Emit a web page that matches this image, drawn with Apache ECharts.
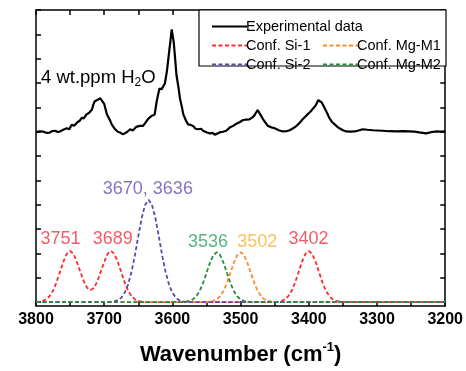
<!DOCTYPE html>
<html>
<head>
<meta charset="utf-8">
<script src="https://cdn.jsdelivr.net/npm/echarts@6/dist/echarts.min.js"></script>
<style>html,body{margin:0;padding:0;background:#fff}#c{width:466px;height:371px}</style>
</head>
<body>
<div id="c"></div>
<script>
// ---- data ----
const expWavenumber = [3800,3795,3789,3784,3780,3776,3772,3768,3765,3760,3755,3751,3748,3744,3740,3736,3733,3730,3726,3722,3718,3716,3714,3710,3706,3704,3700,3696,3692,3689,3684,3680,3677,3673,3670,3666,3662,3658,3653,3648,3643,3640,3636,3631,3626,3623,3619,3616,3614,3611,3608,3606,3603,3601,3598,3596,3594,3591,3589,3586,3584,3580,3577,3573,3570,3566,3562,3558,3555,3550,3545,3541,3538,3534,3531,3526,3521,3516,3511,3506,3501,3497,3492,3487,3483,3480,3477,3475,3471,3467,3463,3460,3455,3450,3444,3438,3433,3428,3423,3418,3413,3409,3403,3397,3390,3386,3384,3381,3377,3373,3370,3366,3362,3358,3355,3350,3345,3339,3333,3327,3321,3314,3306,3299,3292,3282,3272,3262,3253,3245,3238,3233,3228,3221,3214,3207,3200];
const expIntensity = [6.97,7.02,7.00,6.95,6.96,7.03,7.04,6.99,7.01,7.08,7.14,7.10,7.28,7.25,7.37,7.45,7.57,7.55,7.71,7.78,7.91,8.10,8.25,8.30,8.38,8.45,8.14,7.71,7.50,7.30,7.10,7.00,6.97,6.90,6.93,7.00,7.10,7.05,7.20,7.24,7.24,7.35,7.51,7.64,7.71,8.25,8.78,8.74,8.71,8.98,9.50,9.99,10.7,11.2,10.66,10.0,9.32,8.80,8.38,8.00,7.71,7.45,7.30,7.28,7.24,7.12,7.10,7.12,7.04,6.98,6.93,6.95,6.88,6.92,6.97,7.00,7.04,7.17,7.24,7.33,7.40,7.47,7.50,7.51,7.58,7.66,7.80,7.89,7.70,7.51,7.35,7.24,7.18,7.14,7.06,7.01,7.02,7.06,7.14,7.24,7.38,7.51,7.68,7.84,8.08,8.30,8.35,8.20,7.98,7.76,7.57,7.40,7.30,7.20,7.14,7.06,7.01,7.00,7.01,7.05,7.10,7.08,7.06,7.05,7.04,7.02,7.01,7.02,7.01,7.00,6.97,6.95,6.93,6.98,7.01,7.00,7.01];

const si1Wavenumber = [3800,3795,3790,3785,3780,3775,3770,3765,3760,3755,3750,3745,3740,3735,3730,3725,3720,3715,3710,3705,3700,3695,3690,3685,3680,3675,3670,3665,3660,3655,3650,3645,3640,3450,3445,3440,3435,3430,3425,3420,3415,3410,3405,3400,3395,3390,3385,3380,3375,3370,3365,3360,3355,3350,3200];
const si1Intensity = [0,0.02,0.05,0.11,0.25,0.47,0.81,1.23,1.65,1.98,2.10,1.98,1.65,1.25,0.86,0.58,0.50,0.58,0.86,1.25,1.65,1.98,2.10,1.98,1.65,1.23,0.81,0.47,0.25,0.11,0.05,0.02,0,0,0.02,0.05,0.11,0.25,0.47,0.81,1.23,1.65,1.98,2.10,1.98,1.65,1.23,0.81,0.47,0.25,0.11,0.05,0.02,0,0];

const si2Wavenumber = [3800,3700,3690,3685,3680,3675,3670,3665,3660,3655,3650,3645,3640,3635,3630,3625,3620,3615,3610,3605,3600,3595,3590,3585,3580,3575,3200];
const si2Intensity = [0,0,0.01,0.03,0.08,0.18,0.38,0.72,1.24,1.92,2.71,3.46,4.00,4.20,4.00,3.46,2.71,1.92,1.24,0.72,0.38,0.18,0.08,0.03,0.01,0,0];

const mgM1Wavenumber = [3800,3550,3545,3540,3535,3530,3525,3520,3515,3510,3505,3500,3495,3490,3485,3480,3475,3470,3465,3460,3455,3450,3200];
const mgM1Intensity = [0,0,0.02,0.05,0.11,0.24,0.46,0.79,1.20,1.61,1.93,2.05,1.93,1.61,1.20,0.79,0.46,0.24,0.11,0.05,0.02,0,0];

const mgM2Wavenumber = [3800,3585,3580,3575,3570,3565,3560,3555,3550,3545,3540,3535,3530,3525,3520,3515,3510,3505,3500,3495,3490,3485,3200];
const mgM2Intensity = [0,0,0.02,0.05,0.11,0.24,0.46,0.79,1.20,1.61,1.93,2.05,1.93,1.61,1.20,0.79,0.46,0.24,0.11,0.05,0.02,0,0];

const peakLabels = ['3751','3689','3670, 3636','3536','3502','3402'];
const peakWavenumber = [3751,3689,3636,3536,3502,3402];
const peakHeight = [2.10,2.10,4.20,2.05,2.05,2.10];

const seriesNames = ['Experimental data','Conf. Si-1','Conf. Si-2','Conf. Mg-M1','Conf. Mg-M2'];
const sampleLabel = '4 wt.ppm H2O';
const xAxisTitle = 'Wavenumber (cm-1)';
const yTickValues = [0,1,2,3,4,5,6,7,8,9,10,11,12];

// ---- styles ----
const FONT = 'Liberation Sans, Arial, sans-serif';
const lineColors = {si1:'#ff2b2b', si2:'#5b4aad', m1:'#ff8a2a', m2:'#2a8a3a'};
const labelColors = ['#ee3340','#ee3340','#6b50ad','#2ca55a','#f8b133','#ee3340'];
const labelOffsets = [[-9,5],[1,5],[0,6],[-8,6],[18,6],[1,5]];
const dash = [4,2.5];

function pairs(xs, ys){ return xs.map((x,i)=>[x,ys[i]]); }

const chart = echarts.init(document.getElementById('c'), null, {renderer:'canvas'});

function xAxisBase(extra){
  return Object.assign({
    type:'value', min:3200, max:3800, inverse:true, interval:50,
    axisLine:{show:true, onZero:false, lineStyle:{color:'#000', width:1.5}},
    axisTick:{show:true, inside:true, length:5, lineStyle:{color:'#000', width:1.5}},
    splitLine:{show:false}
  }, extra);
}
function yAxisBase(extra){
  return Object.assign({
    type:'value', min:-0.16, max:12,
    axisLine:{show:true, onZero:false, lineStyle:{color:'#000', width:1.5}},
    axisTick:{show:true, inside:true, length:5, customValues:yTickValues.slice(), lineStyle:{color:'#000', width:1.5}},
    axisLabel:{show:false},
    splitLine:{show:false}
  }, extra);
}

function dashedSeries(name, xs, ys, color){
  return {
    name, type:'line', data:pairs(xs, ys), symbol:'none', showSymbol:false,
    lineStyle:{color, width:1.8, type:dash}, itemStyle:{color},
    animation:false, silent:true
  };
}

const labelData = peakLabels.map((t,i)=>({
  value:[peakWavenumber[i], peakHeight[i]],
  label:{show:true, formatter:t, position:'top', distance:7, offset:labelOffsets[i],
    color:labelColors[i], fontSize:18, fontFamily:FONT}
}));

const [tA, tB] = [sampleLabel.slice(0,10), sampleLabel.slice(10)];
const titleText = '{a|' + tA + '}{s|' + tB.charAt(0) + '}{a|' + tB.slice(1) + '}';
const nameParts = xAxisTitle.match(/^(.*\(cm)(-1)(\))$/);

const legendCommon = {itemWidth:35, itemHeight:14, z:6, itemGap:4,
  itemStyle:{opacity:0},
  textStyle:{fontSize:14.5, color:'#000', fontFamily:FONT, padding:[0,0,0,-6]}};

chart.setOption({
  animation:false,
  backgroundColor:'#fff',
  textStyle:{fontFamily:FONT},
  grid:{left:36, right:20, top:10, bottom:59, containLabel:false},
  title:{
    text:titleText, left:41, top:67, padding:0,
    textStyle:{fontWeight:'normal', rich:{
      a:{fontSize:18.5, color:'#000', fontFamily:FONT, fontWeight:'normal', lineHeight:22},
      s:{fontSize:12, color:'#000', fontFamily:FONT, fontWeight:'normal', verticalAlign:'bottom'}
    }}
  },
  graphic:[{
    type:'rect', z:3, silent:true,
    shape:{x:199, y:10, width:247, height:56},
    style:{fill:'#fff', stroke:'#000', lineWidth:1.2}
  }],
  legend:[
    Object.assign({data:[seriesNames[0]], left:206, top:14}, legendCommon),
    Object.assign({data:[seriesNames[1], seriesNames[2]], orient:'vertical', left:206, top:33}, legendCommon),
    Object.assign({data:[seriesNames[3], seriesNames[4]], orient:'vertical', left:317, top:33}, legendCommon)
  ],
  xAxis:[
    xAxisBase({position:'bottom',
      axisLabel:{show:true, margin:6, color:'#000', fontSize:16, fontWeight:'bold', fontFamily:FONT,
        formatter:v=> (v % 100 === 0 ? String(v) : '')},
      name:'{a|' + nameParts[1] + '}{s|' + nameParts[2] + '}{a|' + nameParts[3] + '}',
      nameLocation:'middle', nameGap:35,
      nameTextStyle:{rich:{
        a:{fontSize:22, fontWeight:'bold', color:'#000', fontFamily:FONT, lineHeight:28},
        s:{fontSize:13, fontWeight:'bold', color:'#000', fontFamily:FONT, verticalAlign:'top'}
      }}
    }),
    xAxisBase({position:'top', axisLabel:{show:false}})
  ],
  yAxis:[
    yAxisBase({position:'left'}),
    yAxisBase({position:'right'})
  ],
  series:[
    {name:seriesNames[0], type:'line', data:pairs(expWavenumber, expIntensity), symbol:'none', showSymbol:false,
      lineStyle:{color:'#000', width:2.2}, itemStyle:{color:'#000'}, silent:true, z:3},
    dashedSeries(seriesNames[1], si1Wavenumber, si1Intensity, lineColors.si1),
    dashedSeries(seriesNames[3], mgM1Wavenumber, mgM1Intensity, lineColors.m1),
    dashedSeries(seriesNames[2], si2Wavenumber, si2Intensity, lineColors.si2),
    dashedSeries(seriesNames[4], mgM2Wavenumber, mgM2Intensity, lineColors.m2),
    {name:'peak labels', type:'scatter', data:labelData, symbolSize:1,
      itemStyle:{color:'rgba(0,0,0,0)'}, silent:true, z:4}
  ]
});
</script>
</body>
</html>
